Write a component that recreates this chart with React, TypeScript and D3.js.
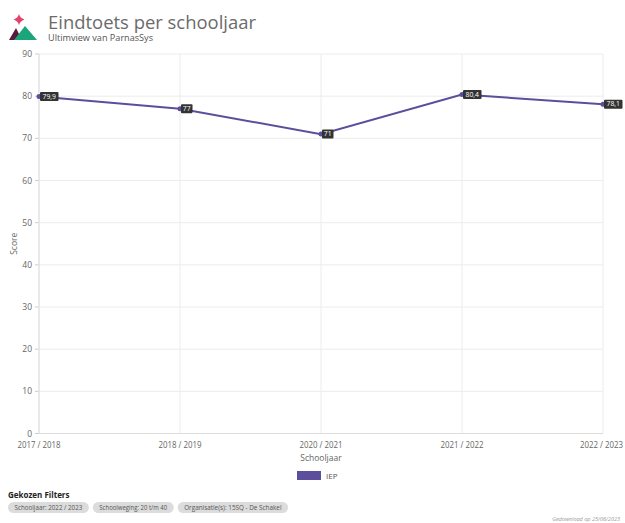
import React from "react";
import * as d3 from "d3";

const categories = ["2017 / 2018", "2018 / 2019", "2020 / 2021", "2021 / 2022", "2022 / 2023"];
const values = [79.9, 77, 71, 80.4, 78.1];
const yTicks = [0, 10, 20, 30, 40, 50, 60, 70, 80, 90];
const filters = ["Schooljaar: 2022 / 2023", "Schoolweging: 20 t/m 40", "Organisatie(s): 15SQ - De Schakel"];

const W = 625, H = 523;
const FONT = "'Open Sans', 'Noto Sans', sans-serif";
const LINE = "#5c4e9c";

export default function App() {
  const x = d3.scalePoint<string>().domain(categories).range([39, 603]);
  const y = d3.scaleLinear().domain([0, 90]).range([433.5, 54]);
  const line = d3.line<number>().x((_, i) => x(categories[i])!).y(d => y(d));
  const fmt = (v: number) => String(v).replace(".", ",");

  let pillX = 8;
  const pills = filters.map(f => {
    const w = f.length * 2.95 + 13;
    const p = { f, x: pillX, w };
    pillX += w + 4;
    return p;
  });

  return (
    <svg width={W} height={H} style={{ position: "absolute", left: 0, top: 0, background: "#fff" }} fontFamily={FONT}>
      {/* logo */}
      <path d="M19,14 Q20,18 24.5,19.5 Q20,21 19,25 Q18,21 13.5,19.5 Q18,18 19,14 Z" fill="#e5426b" />
      <path d="M9,40 L16,28 L22,40 Z" fill="#5a1a3e" />
      <path d="M14,40 L25,26 L37,40 Z" fill="#1aa57a" />
      <text x={48} y={28.5} fontSize={19} fill="#6b6b6b" textLength={208} lengthAdjust="spacingAndGlyphs">Eindtoets per schooljaar</text>
      <text x={48} y={40.5} fontSize={9} fill="#555" textLength={105} lengthAdjust="spacingAndGlyphs">Ultimview van ParnasSys</text>

      {/* grid */}
      {yTicks.map(t => (
        <g key={t}>
          <line x1={39} x2={603} y1={y(t)} y2={y(t)} stroke="#ececec" />
          <line x1={35} x2={39} y1={y(t)} y2={y(t)} stroke="#ccc" />
          <text x={32} y={y(t) + 3} fontSize={8.5} fill="#666" textAnchor="end">{t}</text>
        </g>
      ))}
      {categories.map((c, i) => (
        <g key={c}>
          <line x1={x(c)} x2={x(c)} y1={54} y2={433.5} stroke="#ececec" />
          <text x={i === categories.length - 1 ? x(c)! - 1.5 : x(c)} y={448} fontSize={9.5} fill="#666"
            textAnchor="middle" textLength={43} lengthAdjust="spacingAndGlyphs">{c}</text>
        </g>
      ))}
      <line x1={39} x2={39} y1={54} y2={433.5} stroke="#ddd" />
      <line x1={39} x2={603} y1={433.5} y2={433.5} stroke="#ddd" />

      <text x={321} y={461} fontSize={8.5} fill="#666" textAnchor="middle">Schooljaar</text>
      <text transform={`translate(17,${y(45)}) rotate(-90)`} fontSize={8.5} fill="#666" textAnchor="middle">Score</text>

      {/* series */}
      <path d={line(values)!} fill="none" stroke={LINE} strokeWidth={2} />
      {values.map((v, i) => {
        const cx = x(categories[i])!;
        const cy = y(v);
        const label = fmt(v);
        const w = label.length * 3.5 + 4.5;
        return (
          <g key={i}>
            <circle cx={cx} cy={cy} r={2.5} fill={LINE} />
            <rect x={cx + 1} y={cy - 4.5} width={w} height={9} rx={1} fill="#333" />
            <text x={cx + 1 + w / 2} y={cy + 2.3} fontSize={6.8} fill="#fff" textAnchor="middle">{label}</text>
          </g>
        );
      })}

      {/* legend */}
      <rect x={297} y={471} width={24} height={9} fill={LINE} />
      <text x={326} y={479} fontSize={8} fill="#555">IEP</text>

      {/* filters */}
      <text x={8} y={498} fontSize={8} fontWeight="bold" fill="#222">Gekozen Filters</text>
      {pills.map(p => (
        <g key={p.f}>
          <rect x={p.x} y={502} width={p.w} height={11} rx={5.5} fill="#dcdcdc" />
          <text x={p.x + p.w / 2} y={510} fontSize={6.3} fill="#555" textAnchor="middle"
            textLength={p.f.length * 2.95} lengthAdjust="spacingAndGlyphs">{p.f}</text>
        </g>
      ))}
      <text x={620} y={521} fontSize={5.5} fontStyle="italic" fill="#999" textAnchor="end">Gedownload op 25/06/2023</text>
    </svg>
  );
}
